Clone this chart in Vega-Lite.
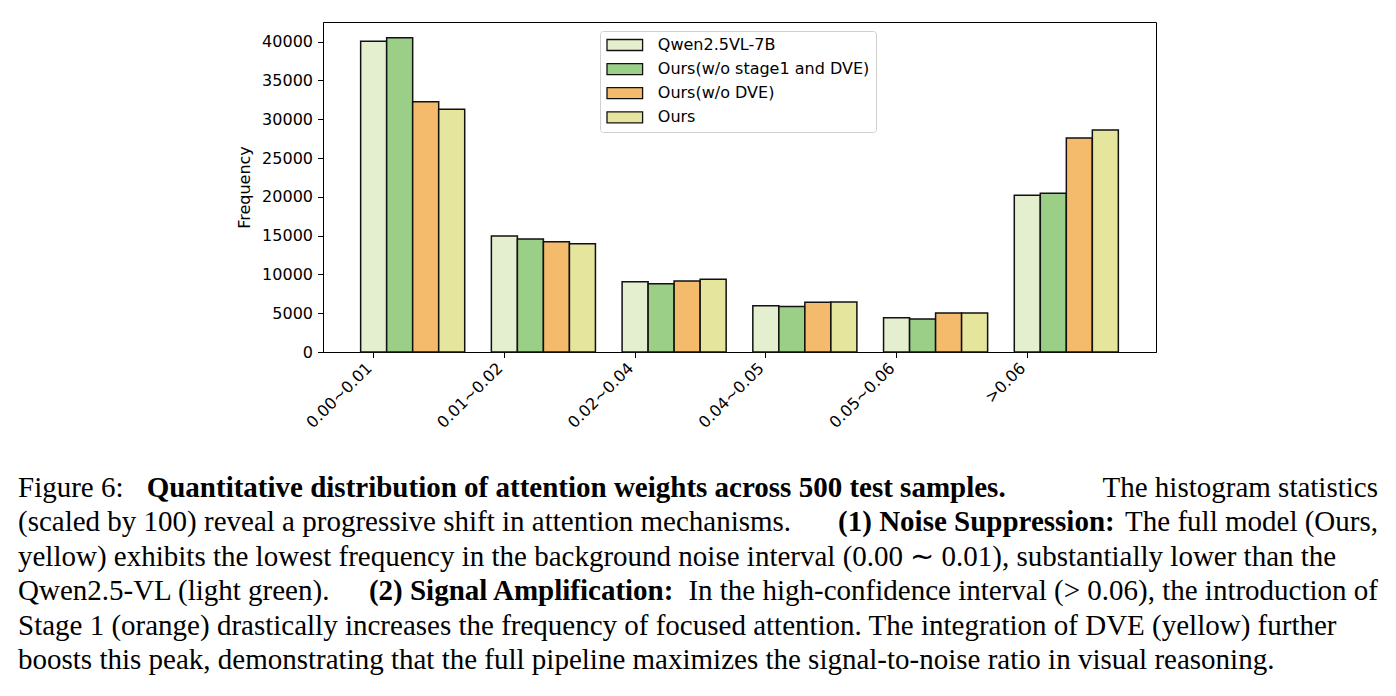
{
  "$schema": "https://vega.github.io/schema/vega-lite/v6.json",
  "width": 833,
  "height": 330,
  "autosize": {"type": "none"},
  "padding": {"left": 323, "top": 22, "right": 240, "bottom": 344},
  "background": "white",
  "config": {
    "font": "DejaVu Sans",
    "view": {"stroke": "black", "strokeWidth": 1}
  },
  "datasets": {
    "counts": [
      {"bin": "0.00~0.01", "model": "Qwen2.5VL-7B", "frequency": 40050},
      {"bin": "0.00~0.01", "model": "Ours(w/o stage1 and DVE)", "frequency": 40520},
      {"bin": "0.00~0.01", "model": "Ours(w/o DVE)", "frequency": 32270},
      {"bin": "0.00~0.01", "model": "Ours", "frequency": 31280},
      {"bin": "0.01~0.02", "model": "Qwen2.5VL-7B", "frequency": 14950},
      {"bin": "0.01~0.02", "model": "Ours(w/o stage1 and DVE)", "frequency": 14570},
      {"bin": "0.01~0.02", "model": "Ours(w/o DVE)", "frequency": 14220},
      {"bin": "0.01~0.02", "model": "Ours", "frequency": 13960},
      {"bin": "0.02~0.04", "model": "Qwen2.5VL-7B", "frequency": 9060},
      {"bin": "0.02~0.04", "model": "Ours(w/o stage1 and DVE)", "frequency": 8800},
      {"bin": "0.02~0.04", "model": "Ours(w/o DVE)", "frequency": 9150},
      {"bin": "0.02~0.04", "model": "Ours", "frequency": 9370},
      {"bin": "0.04~0.05", "model": "Qwen2.5VL-7B", "frequency": 5950},
      {"bin": "0.04~0.05", "model": "Ours(w/o stage1 and DVE)", "frequency": 5870},
      {"bin": "0.04~0.05", "model": "Ours(w/o DVE)", "frequency": 6420},
      {"bin": "0.04~0.05", "model": "Ours", "frequency": 6460},
      {"bin": "0.05~0.06", "model": "Qwen2.5VL-7B", "frequency": 4400},
      {"bin": "0.05~0.06", "model": "Ours(w/o stage1 and DVE)", "frequency": 4270},
      {"bin": "0.05~0.06", "model": "Ours(w/o DVE)", "frequency": 5040},
      {"bin": "0.05~0.06", "model": "Ours", "frequency": 5040},
      {"bin": ">0.06", "model": "Qwen2.5VL-7B", "frequency": 20210},
      {"bin": ">0.06", "model": "Ours(w/o stage1 and DVE)", "frequency": 20470},
      {"bin": ">0.06", "model": "Ours(w/o DVE)", "frequency": 27600},
      {"bin": ">0.06", "model": "Ours", "frequency": 28630}
    ],
    "caption": [
      {"line": 1, "part": "lead", "text": "Figure 6:"},
      {"line": 1, "part": "bold", "at": 0.0946, "text": "Quantitative distribution of attention weights across 500 test samples."},
      {"line": 1, "part": "tail", "text": "The histogram statistics"},
      {"line": 2, "part": "lead", "text": "(scaled by 100) reveal a progressive shift in attention mechanisms."},
      {"line": 2, "part": "bold", "at": 0.603, "text": "(1) Noise Suppression:"},
      {"line": 2, "part": "tail", "text": "The full model (Ours,"},
      {"line": 3, "part": "lead", "text": "yellow) exhibits the lowest frequency in the background noise interval (0.00 ∼ 0.01), substantially lower than the"},
      {"line": 4, "part": "lead", "text": "Qwen2.5-VL (light green)."},
      {"line": 4, "part": "bold", "at": 0.258, "text": "(2) Signal Amplification:"},
      {"line": 4, "part": "tail", "text": "In the high-confidence interval (> 0.06), the introduction of"},
      {"line": 5, "part": "lead", "text": "Stage 1 (orange) drastically increases the frequency of focused attention. The integration of DVE (yellow) further"},
      {"line": 6, "part": "lead", "text": "boosts this peak, demonstrating that the full pipeline maximizes the signal-to-noise ratio in visual reasoning."}
    ]
  },
  "layer": [
    {
      "data": {"name": "counts"},
      "mark": {"type": "bar", "stroke": "#111111", "strokeWidth": 1.5},
      "encoding": {
        "x": {
          "field": "bin",
          "type": "nominal",
          "sort": ["0.00~0.01", "0.01~0.02", "0.02~0.04", "0.04~0.05", "0.05~0.06", ">0.06"],
          "scale": {"paddingInner": 0.204, "paddingOuter": 0.288},
          "axis": {
            "title": null,
            "bandPosition": 0.125,
            "labelOffset": -49,
            "labelAngle": -45,
            "labelAlign": "right",
            "labelBaseline": "top",
            "labelFontSize": 16,
            "labelColor": "black",
            "labelPadding": 2,
            "tickColor": "black",
            "tickSize": 5.5,
            "domainColor": "black",
            "grid": false
          }
        },
        "xOffset": {
          "field": "model",
          "type": "nominal",
          "sort": ["Qwen2.5VL-7B", "Ours(w/o stage1 and DVE)", "Ours(w/o DVE)", "Ours"],
          "scale": {"paddingInner": 0, "paddingOuter": 0}
        },
        "y": {
          "field": "frequency",
          "type": "quantitative",
          "scale": {"domain": [0, 42540], "nice": false},
          "axis": {
            "title": "Frequency",
            "titleFontSize": 16,
            "titleFontWeight": "normal",
            "titleColor": "black",
            "titlePadding": 9,
            "values": [0, 5000, 10000, 15000, 20000, 25000, 30000, 35000, 40000],
            "format": "d",
            "labelFontSize": 16,
            "labelColor": "black",
            "labelPadding": 5,
            "tickColor": "black",
            "tickSize": 5.5,
            "domainColor": "black",
            "grid": false
          }
        },
        "color": {
          "field": "model",
          "type": "nominal",
          "scale": {
            "domain": ["Qwen2.5VL-7B", "Ours(w/o stage1 and DVE)", "Ours(w/o DVE)", "Ours"],
            "range": ["#e4efd0", "#9bcf88", "#f4bb6d", "#e5e59d"]
          },
          "legend": {
            "title": null,
            "orient": "none",
            "legendX": 277,
            "legendY": 9,
            "symbolType": "M-1,-0.786H4.086V0.786H-1Z",
            "symbolSize": 196,
            "symbolStrokeColor": "#111111",
            "symbolStrokeWidth": 1.3,
            "labelFontSize": 16,
            "labelColor": "black",
            "labelLimit": 0,
            "labelOffset": 35.8,
            "rowPadding": 6.1,
            "padding": 6,
            "strokeColor": "#d0d0d0",
            "fillColor": "white",
            "cornerRadius": 3
          }
        }
      }
    },
    {
      "data": {"name": "caption"},
      "transform": [{"filter": "datum.part === 'lead'"}],
      "mark": {"type": "text", "font": "Liberation Serif", "fontSize": 29, "align": "left", "baseline": "alphabetic", "color": "black"},
      "encoding": {
        "x": {"datum": 0, "type": "quantitative", "scale": {"domain": [0, 1], "range": [-305, 1055], "zero": false, "nice": false}, "axis": null},
        "y": {"field": "line", "type": "quantitative", "scale": {"domain": [1, 6], "range": [475, 647], "zero": false, "nice": false}, "axis": null},
        "text": {"field": "text"}
      }
    },
    {
      "data": {"name": "caption"},
      "transform": [{"filter": "datum.part === 'bold'"}],
      "mark": {"type": "text", "font": "Liberation Serif", "fontSize": 29, "fontWeight": "bold", "align": "left", "baseline": "alphabetic", "color": "black"},
      "encoding": {
        "x": {"field": "at", "type": "quantitative", "scale": {"domain": [0, 1], "range": [-305, 1055], "zero": false, "nice": false}, "axis": null},
        "y": {"field": "line", "type": "quantitative", "scale": {"domain": [1, 6], "range": [475, 647], "zero": false, "nice": false}, "axis": null},
        "text": {"field": "text"}
      }
    },
    {
      "data": {"name": "caption"},
      "transform": [{"filter": "datum.part === 'tail'"}],
      "mark": {"type": "text", "font": "Liberation Serif", "fontSize": 29, "align": "right", "baseline": "alphabetic", "color": "black"},
      "encoding": {
        "x": {"datum": 1, "type": "quantitative", "scale": {"domain": [0, 1], "range": [-305, 1055], "zero": false, "nice": false}, "axis": null},
        "y": {"field": "line", "type": "quantitative", "scale": {"domain": [1, 6], "range": [475, 647], "zero": false, "nice": false}, "axis": null},
        "text": {"field": "text"}
      }
    }
  ],
  "resolve": {"scale": {"x": "independent", "y": "independent"}}
}
